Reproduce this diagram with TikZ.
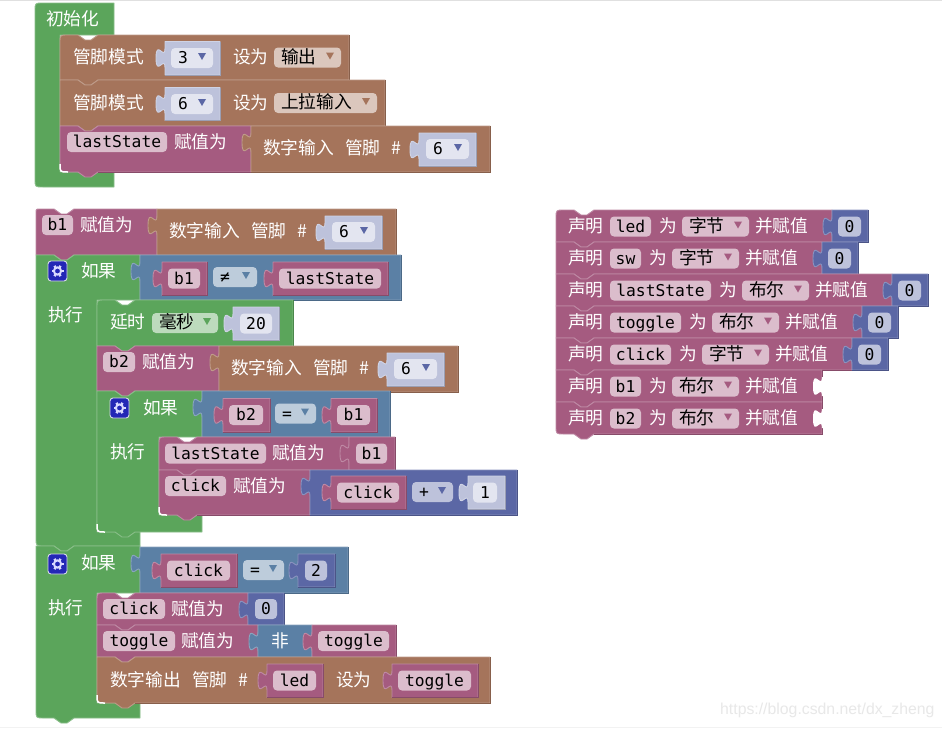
\documentclass[tikz,border=0pt]{standalone}
\usepackage{fontspec}
\setmonofont{DejaVu Sans Mono}
\setsansfont{Liberation Sans}
\newfontfamily\cjk{Noto Sans CJK SC}
\definecolor{brownb}{HTML}{A5745B}
\definecolor{purpb}{HTML}{A55B80}
\definecolor{blueb}{HTML}{5B80A5}
\definecolor{greenb}{HTML}{5BA55B}
\definecolor{numb}{HTML}{5B67A5}
\definecolor{shad}{HTML}{BDC2DB}
\definecolor{fshad}{HTML}{E3E5F0}
\definecolor{fpurp}{HTML}{DBBDCC}
\definecolor{fbrown}{HTML}{DBC7BD}
\definecolor{fblue}{HTML}{BDCCDB}
\definecolor{fgreen}{HTML}{BDDBBD}
\definecolor{fnum}{HTML}{BDC2DB}
\newcommand\cj{\cjk\fontsize{17.7}{20}\selectfont}
\newcommand\mn{\ttfamily\fontsize{16.3}{20}\selectfont}
\tikzset{
  blockpath/.style={line width=.9pt,line join=round},
  wtext/.style={anchor=base west,inner sep=0pt,text=white,font=\cj},
  mtext/.style={anchor=base,inner sep=0pt,text=black,font=\mn},
}
% statement block: x1 y1 x2 y2 colour topradius bottomradius
\newcommand\stat[7]{%
 \filldraw[blockpath,fill=#5,draw=#5!72!white]
  ({#1},{#2+#6}) .. controls ({#1},{#2}) and ({#1},{#2}) .. ({#1+#6},{#2})
  -- ({#1+18},{#2}) -- ({#1+25},{#2+5}) -- ({#1+31},{#2+5}) -- ({#1+38},{#2})
  -- ({#3},{#2}) -- ({#3},{#4})
  -- ({#1+38},{#4}) -- ({#1+31},{#4+5}) -- ({#1+25},{#4+5}) -- ({#1+18},{#4})
  -- ({#1+#7},{#4}) .. controls ({#1},{#4}) and ({#1},{#4}) .. ({#1},{#4-#7}) -- cycle;
 \draw[line width=.7pt,#5!82!black] ({#3},{#2}) -- ({#3},{#4}) -- ({#1+38},{#4});
}
% value block with a left tab: x1 y1 x2 y2 colour
\newcommand\val[5]{%
 \filldraw[blockpath,fill=#5,draw=#5!72!white]
  ({#1},{#2}) -- ({#3},{#2}) -- ({#3},{#4}) -- ({#1},{#4}) -- ({#1},{#2+26})
  .. controls ({#1},{#2+13.3}) and ({#1-9},{#2+36}) .. ({#1-9},{#2+16.5})
  .. controls ({#1-9},{#2-3}) and ({#1},{#2+19.7}) .. ({#1},{#2+7}) -- cycle;
 \draw[line width=.7pt,#5!82!black] ({#3},{#2}) -- ({#3},{#4}) -- ({#1},{#4});
}
% open socket on a right edge
\newcommand\socket[2]{%
 \fill[white] ({#1+1},{#2+7}) -- ({#1},{#2+7})
  .. controls ({#1},{#2+19.7}) and ({#1-9},{#2-3}) .. ({#1-9},{#2+16.5})
  .. controls ({#1-9},{#2+36}) and ({#1},{#2+13.3}) .. ({#1},{#2+26}) -- ({#1+1},{#2+26}) -- cycle;
}
% container: x1 y1 x2 headerbottom innerx foottop footbottom colour notchdepth
\newcommand\ctnrt{0}
\newcommand\ctn[9]{%
 \filldraw[blockpath,fill=#8,draw=#8!72!white]
  ({#1},{#2+\ctnrt}) .. controls ({#1},{#2}) and ({#1},{#2}) .. ({#1+\ctnrt},{#2})
  -- ({#1+18},{#2}) -- ({#1+25},{#2+#9}) -- ({#1+31},{#2+#9}) -- ({#1+38},{#2})
  -- ({#3},{#2}) -- ({#3},{#4}) -- ({#5},{#4}) -- ({#5},{#6}) -- ({#3},{#6}) -- ({#3},{#7})
  -- ({#1+38},{#7}) -- ({#1+31},{#7+#9}) -- ({#1+25},{#7+#9}) -- ({#1+18},{#7})
  -- ({#1+8},{#7}) .. controls ({#1},{#7}) and ({#1},{#7}) .. ({#1},{#7-8}) -- cycle;
}
\newcommand\wc[2]{\draw[white,line width=1.5pt] ({#1},{#2-8}) .. controls ({#1},{#2}) and ({#1},{#2}) .. ({#1+8},{#2});}
\newcommand\tx[3]{\node[wtext] at ({#1},{#2+6}) {#3};}
% variable / number field: x1 x2 yc fill text
\newcommand\fld[5]{%
 \fill[#4,rounded corners=4pt] ({#1},{#3-10}) rectangle ({#2},{#3+10});
 \node[mtext] at ({(#1+#2)/2},{#3+5.5}) {#5};
}
% dropdown: x1 x2 yc fill trianglecolour text
\newcommand\ddn[6]{%
 \fill[#4,rounded corners=4pt] ({#1},{#3-10}) rectangle ({#2},{#3+10});
 \node[anchor=base west,inner sep=0pt,text=black] at ({#1+7},{#3+5.7}) {#6};
 \fill[#5] ({#2-15},{#3-5}) -- ({#2-7},{#3-5}) -- ({#2-11},{#3+2}) -- cycle;
}
% variable reporter block: x1 x2 y text
\newcommand\vb[4]{%
 \val{#1}{#3}{#2}{#3+33.5}{purpb}
 \fld{#1+6}{#2-7}{#3+16.5}{fpurp}{#4}
}
% digital input block
\newcommand\dinp[2]{%
 \val{#1}{#2}{#1+239}{#2+46}{brownb}
 \tx{#1+12}{#2+22}{数字输入}
 \tx{#1+94}{#2+22}{管脚}
 \tx{#1+140}{#2+22}{\#}
 \val{#1+168}{#2+7}{#1+225}{#2+40}{shad}
 \ddn{#1+175}{#1+218}{#2+23}{fshad}{numb}{\mn 6}
}
% gear icon
\newcommand\gear[2]{%
 \filldraw[fill=blue!55!numb!85!black,draw=white!75!numb,line width=.9pt,rounded corners=3pt] ({#1},{#2}) rectangle ({#1+19},{#2+20});
 \foreach \a in {0,60,...,300}{\draw[white!85!blue,line width=2.4pt] ({#1+9.5+3.5*cos(\a)},{#2+10+3.5*sin(\a)}) -- ({#1+9.5+6*cos(\a)},{#2+10+6*sin(\a)});}
 \draw[white!85!blue,line width=2pt] ({#1+9.5},{#2+10}) circle[radius=3.6];
}
% declaration row: y varx2 var drop rt rb hasvalue
\newcommand\decl[7]{%
 \stat{556}{#1}{#2+181}{#1+32}{purpb}{#5}{#6}
 \ifnum#7=1
  \val{#2+181}{#1}{#2+217}{#1+32}{numb}
  \fld{#2+187}{#2+210}{#1+16.5}{fnum}{0}
 \else
  \socket{#2+181}{#1}
 \fi
 \tx{568}{#1+16.5}{声明}
 \fld{610}{#2}{#1+16.5}{fpurp}{#3}
 \tx{#2+8}{#1+16.5}{为}
 \ddn{#2+31}{#2+98}{#1+16.5}{fpurp}{purpb}{\cj #4}
 \tx{#2+104}{#1+16.5}{并赋值}
}
\begin{document}
\begin{tikzpicture}[x=1pt,y=-1pt]
\useasboundingbox (0,0) rectangle (942,728);
\fill[white] (0,0) rectangle (942,728);
\draw[black!12,line width=1pt] (0,.5) -- (942,.5);
\draw[black!5,line width=.8pt] (0,727) -- (942,727);

% ---------- init ----------
\renewcommand\ctnrt{8}
\ctn{35}{3}{114}{35}{60}{172}{187}{greenb}{0}
\renewcommand\ctnrt{0}
\tx{46}{19}{初始化}
\stat{60}{35}{349}{80}{brownb}{8}{0}
\tx{73}{57}{管脚模式}
\val{165}{41.5}{220}{75}{shad}
\ddn{171}{213}{58}{fshad}{numb}{\mn 3}
\tx{233}{57}{设为}
\ddn{274}{341}{57.5}{fbrown}{brownb}{\cj 输出}
\stat{60}{80}{385}{126}{brownb}{0}{0}
\tx{73}{103}{管脚模式}
\val{165}{87.5}{220}{120.5}{shad}
\ddn{171}{213}{104}{fshad}{numb}{\mn 6}
\tx{233}{103}{设为}
\ddn{274}{377}{103}{fbrown}{brownb}{\cj 上拉输入}
\stat{60}{126}{251}{172}{purpb}{0}{8}
\wc{60}{172}
\fld{67}{167}{142}{fpurp}{lastState}
\tx{174}{142}{赋值为}
\dinp{251}{126}

% ---------- loop ----------
\stat{36}{209}{157}{255}{purpb}{4}{0}
\fld{42}{73}{225}{fpurp}{b1}
\tx{80}{225}{赋值为}
\dinp{157}{209}

\ctn{36}{255}{140}{300}{97}{532}{546}{greenb}{5}
\gear{48}{261}
\tx{81}{271}{如果}
\tx{48}{315}{执行}
\val{140}{255}{401}{300}{blueb}
\vb{162}{207}{262}{b1}
\ddn{213}{257}{277}{fblue}{blueb}{\mn ≠}
\vb{273}{388}{262}{lastState}

\stat{97}{300}{293}{346}{greenb}{8}{0}
\tx{110}{322}{延时}
\ddn{152}{218}{323}{fgreen}{greenb}{\cj 毫秒}
\val{233}{307}{279}{340}{shad}
\fld{240}{272}{323.5}{fshad}{20}

\stat{97}{346}{219}{391}{purpb}{0}{0}
\fld{103}{135}{362}{fpurp}{b2}
\tx{142}{362}{赋值为}
\dinp{219}{346}

\ctn{97}{391}{202}{437}{159}{515}{532}{greenb}{5}
\gear{110}{398}
\tx{143}{408}{如果}
\tx{110}{452}{执行}
\val{202}{391}{390}{437}{blueb}
\vb{223}{270}{398.5}{b2}
\ddn{275}{316}{413.5}{fblue}{blueb}{\mn =}
\vb{331}{377}{398.5}{b1}

\stat{159}{437}{349}{470}{purpb}{8}{0}
\fld{165}{266}{453.5}{fpurp}{lastState}
\tx{272}{453}{赋值为}
\val{349}{437}{395}{470}{purpb}
\fld{356}{387}{453.5}{fpurp}{b1}

\stat{159}{470}{310}{515}{purpb}{0}{8}
\wc{159}{515}
\fld{165}{226}{486}{fpurp}{click}
\tx{233}{486}{赋值为}
\val{310}{470}{517}{515}{numb}
\vb{331}{406}{476}{click}
\ddn{412}{453}{492}{fnum}{numb}{\mn +}
\val{468}{476}{505}{509}{shad}
\fld{473}{497}{492.5}{fshad}{1}
\wc{97}{532}

% ---------- second if ----------
\ctn{36}{546}{140}{593}{97}{703}{718}{greenb}{5}
\gear{48}{554}
\tx{81}{563}{如果}
\tx{48}{608}{执行}
\val{140}{547}{348}{593}{blueb}
\vb{161}{237}{554}{click}
\ddn{243}{284}{570}{fblue}{blueb}{\mn =}
\val{298}{554}{335}{587}{numb}
\fld{305}{327}{570.5}{fnum}{2}

\stat{97}{593}{248}{625}{purpb}{8}{0}
\fld{103}{165}{609}{fpurp}{click}
\tx{171}{609}{赋值为}
\val{248}{593}{284}{625}{numb}
\fld{255}{277}{609}{fnum}{0}

\stat{97}{625}{258}{657}{purpb}{0}{0}
\fld{103}{175}{641}{fpurp}{toggle}
\tx{181}{641}{赋值为}
\val{258}{625}{312}{657}{blueb}
\tx{271}{641}{非}
\val{312}{625}{396}{657}{purpb}
\fld{318}{389}{641}{fpurp}{toggle}

\stat{97}{657}{490}{703}{brownb}{0}{8}
\wc{97}{703}
\tx{110}{680}{数字输出}
\tx{192}{680}{管脚}
\tx{238}{680}{\#}
\vb{267}{323}{664}{led}
\tx{336}{680}{设为}
\vb{392}{478}{664}{toggle}

% ---------- declarations ----------
\decl{210}{651}{led}{字节}{8}{0}{1}
\decl{242}{641}{sw}{字节}{0}{0}{1}
\decl{274}{711}{lastState}{布尔}{0}{0}{1}
\decl{306}{681}{toggle}{布尔}{0}{0}{1}
\decl{338}{671}{click}{字节}{0}{0}{1}
\decl{370}{641}{b1}{布尔}{0}{0}{0}
\decl{402}{641}{b2}{布尔}{0}{8}{0}

\node[anchor=base west,inner sep=0pt,text=black!9,font=\sffamily\fontsize{15.8}{18}\selectfont] at (720,714.5) {https://blog.csdn.net/dx\_zheng};
\end{tikzpicture}
\end{document}
